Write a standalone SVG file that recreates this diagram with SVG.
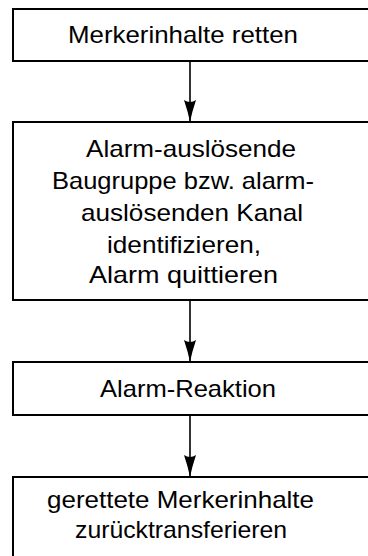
<svg xmlns="http://www.w3.org/2000/svg" width="368" height="556" viewBox="0 0 368 556">
<style>
.box{fill:#fff;stroke:#000;stroke-width:2}
.t{font-family:"Liberation Sans",Arial,Helvetica,sans-serif;font-size:24px;fill:#000}
.c{stroke:#000;stroke-width:1.6;fill:none}
</style>
<defs>
<marker id="ah" viewBox="0 0 22 12" refX="22" refY="6" markerWidth="22" markerHeight="12" markerUnits="userSpaceOnUse" orient="auto">
<path d="M0,0 Q12,4 22,6 Q12,8 0,12 Q4,6 0,0 Z" fill="#000"/>
</marker>
</defs>
<rect width="368" height="556" fill="#fff"/>
<g id="connectors">
<line class="c" x1="190" y1="61" x2="190" y2="122" marker-end="url(#ah)"/>
<line class="c" x1="190" y1="300" x2="190" y2="362" marker-end="url(#ah)"/>
<line class="c" x1="190" y1="415" x2="190" y2="477" marker-end="url(#ah)"/>
</g>
<g id="n1">
<rect class="box" x="13" y="9" width="370" height="52"/>
<text class="t" x="68" y="43" textLength="230" lengthAdjust="spacingAndGlyphs">Merkerinhalte retten</text>
</g>
<g id="n2">
<rect class="box" x="13" y="122" width="370" height="178"/>
<text class="t" x="86" y="157" textLength="210" lengthAdjust="spacingAndGlyphs">Alarm-auslösende</text>
<text class="t" x="52" y="189" textLength="262" lengthAdjust="spacingAndGlyphs">Baugruppe bzw. alarm-</text>
<text class="t" x="81" y="221" textLength="222" lengthAdjust="spacingAndGlyphs">auslösenden Kanal</text>
<text class="t" x="107" y="253" textLength="154" lengthAdjust="spacingAndGlyphs">identifizieren,</text>
<text class="t" x="89" y="283" textLength="189" lengthAdjust="spacingAndGlyphs">Alarm quittieren</text>
</g>
<g id="n3">
<rect class="box" x="13" y="362" width="370" height="53"/>
<text class="t" x="100" y="397" textLength="176" lengthAdjust="spacingAndGlyphs">Alarm-Reaktion</text>
</g>
<g id="n4">
<rect class="box" x="13" y="477" width="370" height="100"/>
<text class="t" x="47" y="508" textLength="267" lengthAdjust="spacingAndGlyphs">gerettete Merkerinhalte</text>
<text class="t" x="75" y="538" textLength="212" lengthAdjust="spacingAndGlyphs">zurücktransferieren</text>
</g>
</svg>
